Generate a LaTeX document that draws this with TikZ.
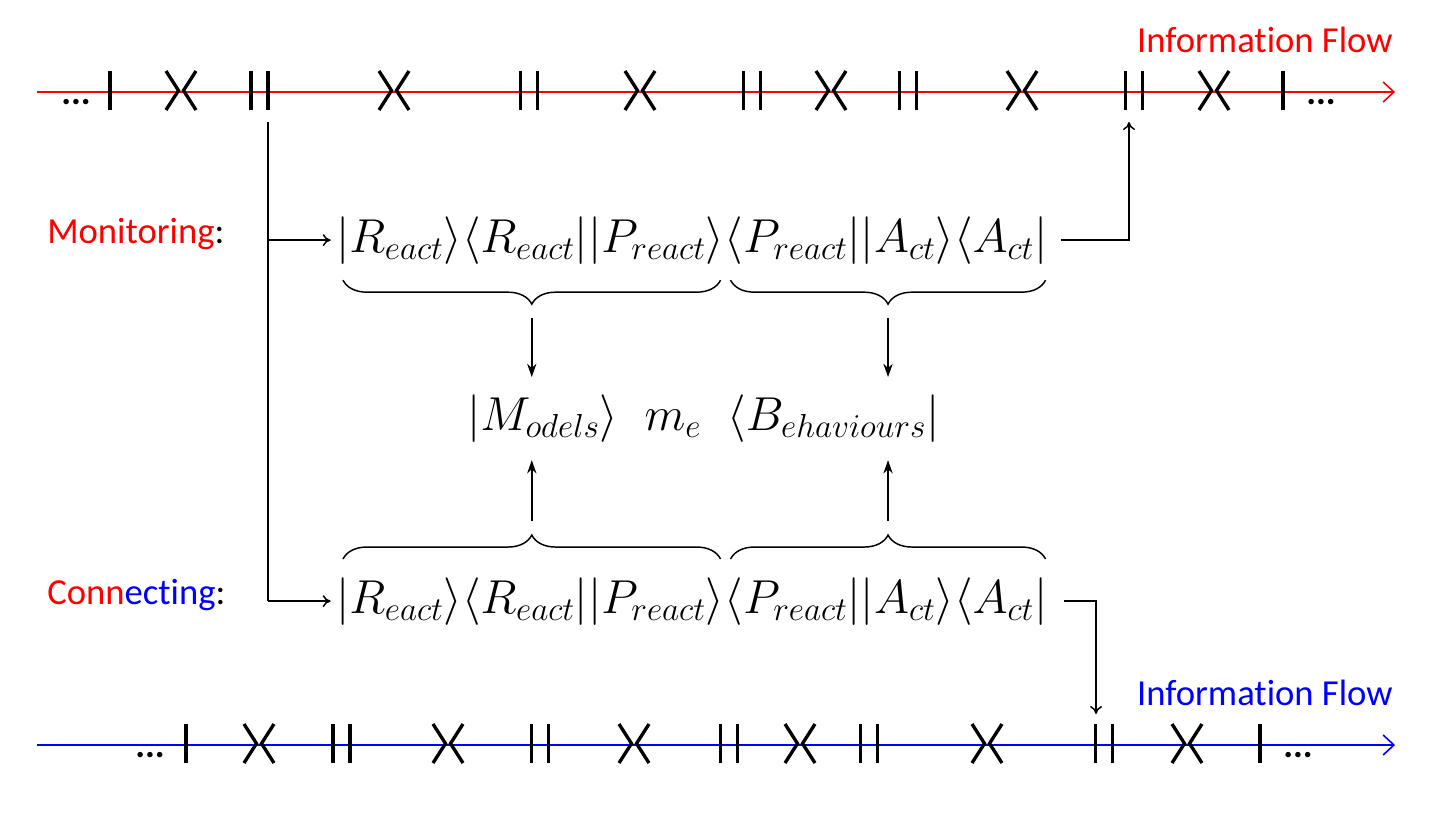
\RequirePackage{fix-cm}
\documentclass[tikz,border=0pt]{standalone}
\usepackage[no-math]{fontspec}
\setmainfont[Ligatures={NoCommon}]{Carlito}
\usetikzlibrary{arrows.meta,decorations.pathreplacing,calc}
\definecolor{flowred}{RGB}{255,0,0}
\definecolor{flowblue}{RGB}{0,0,255}
\newcommand\mkone[2]{\draw[mk] (#1,#2-21) -- (#1,#2+18);}
\newcommand\mktwo[2]{\draw[mk] (#1-8.5,#2-21) -- (#1-8.5,#2+18) (#1+8.5,#2-21) -- (#1+8.5,#2+18);}
\newcommand\mkang[2]{\draw[mk] (#1-15,#2-21) -- (#1-2.5,#2-1.5) -- (#1-15,#2+18) (#1+15,#2-21) -- (#1+2.5,#2-1.5) -- (#1+15,#2+18);}
\begin{document}
\begin{tikzpicture}[x=0.75pt,y=-0.75pt,
  mk/.style={line width=2.5pt,black},
  flowline/.style={line width=1.4pt,-{Straight Barb[length=8pt,width=15pt,line width=1.2pt]}},
  conn/.style={line width=1.1pt,black},
  openarrow/.style={conn,-{To[length=6pt,width=9pt]}},
  fillarrow/.style={conn,-{Stealth[length=10pt,width=7pt]}},
  fml/.style={inner sep=0pt,font=\fontsize{35.7}{42}\selectfont},
  lbl/.style={inner sep=0pt,font=\fontsize{27.5}{32}\selectfont},
  dotslbl/.style={inner sep=0pt,font=\fontsize{27.5}{32}\selectfont\bfseries},
  bracedown/.style={conn,decorate,decoration={brace,mirror,amplitude=18pt}},
  braceup/.style={conn,decorate,decoration={brace,amplitude=18pt}}]
\fill[white] (0,0) rectangle (1430,832);
\useasboundingbox (0,0) rectangle (1430,832);

% ---------- top information flow ----------
\coordinate (tl0) at (37,92);
\coordinate (tl1) at (1395,92);
\draw[flowline,flowred] (tl0) -- (tl1);
\node[lbl,text=flowred,anchor=base east] (ift) at (1393,52) {Information Flow};
\node[dotslbl,anchor=base west] (dt1) at (61,104) {...};
\node[dotslbl,anchor=base west] (dt2) at (1306,104) {...};
\mkone{110}{92}
\mkang{181}{92}
\mktwo{259.5}{92}
\mkang{394}{92}
\mktwo{529}{92}
\mkang{640}{92}
\mktwo{752}{92}
\mkang{831}{92}
\mktwo{908}{92}
\mkang{1022}{92}
\mktwo{1134}{92}
\mkang{1214}{92}
\mkone{1283}{92}

% ---------- bottom information flow ----------
\coordinate (bl0) at (37,745);
\coordinate (bl1) at (1395,745);
\draw[flowline,flowblue] (bl0) -- (bl1);
\node[lbl,text=flowblue,anchor=base east] (ifb) at (1393,705) {Information Flow};
\node[dotslbl,anchor=base west] (db1) at (135,757) {...};
\node[dotslbl,anchor=base west] (db2) at (1283,757) {...};
\mkone{186}{745}
\mkang{259}{745}
\mktwo{341.5}{745}
\mkang{448}{745}
\mktwo{540}{745}
\mkang{634}{745}
\mktwo{729}{745}
\mkang{800}{745}
\mktwo{869}{745}
\mkang{987}{745}
\mktwo{1104}{745}
\mkang{1187}{745}
\mkone{1260}{745}

% ---------- labels ----------
\node[lbl,anchor=base west] (mon) at (47,243) {\textcolor{flowred}{Monitoring}:};
\node[lbl,anchor=base west] (con) at (47,604) {\textcolor{flowred}{Conn}\textcolor{flowblue}{ecting}:};

% ---------- formulas ----------
\node[fml,anchor=base west] (L1) at (336,252) {$|R_{eact}\rangle\langle R_{eact}||P_{react}\rangle$};
\node[fml,anchor=base west] (R1) at (L1.base east) {$\langle P_{react}||A_{ct}\rangle\langle A_{ct}|$};
\node[fml,anchor=base west] (L2) at (336,613) {$|R_{eact}\rangle\langle R_{eact}||P_{react}\rangle$};
\node[fml,anchor=base west] (R2) at (L2.base east) {$\langle P_{react}||A_{ct}\rangle\langle A_{ct}|$};
\node[fml,anchor=base west] (M) at (467,430) {$|M_{odels}\rangle\hspace{0.55em}m_e\hspace{0.55em}\langle B_{ehaviours}|$};

% ---------- braces ----------
\coordinate (a1) at ($(L1.south west)+(7,16)$);
\coordinate (a2) at ($(L1.south east)+(-4,16)$);
\coordinate (a3) at ($(R1.south west)+(6,16)$);
\coordinate (a4) at ($(R1.south east)+(-2,16)$);
\draw[bracedown] (a1) -- (a2);
\draw[bracedown] (a3) -- (a4);
\coordinate (b1) at ($(L2.north west)+(7,-18)$);
\coordinate (b2) at ($(L2.north east)+(-4,-18)$);
\coordinate (b3) at ($(R2.north west)+(6,-18)$);
\coordinate (b4) at ($(R2.north east)+(-2,-18)$);
\draw[braceup] (b1) -- (b2);
\draw[braceup] (b3) -- (b4);

% brace tips
\coordinate (ta) at ($(a1)!0.5!(a2)+(0,38)$);
\coordinate (tb) at ($(a3)!0.5!(a4)+(0,38)$);
\coordinate (tc) at ($(b1)!0.5!(b2)+(0,-38)$);
\coordinate (td) at ($(b3)!0.5!(b4)+(0,-38)$);
\draw[fillarrow] (ta) -- ($(ta |- M.north)+(0,-17)$);
\draw[fillarrow] (tb) -- ($(tb |- M.north)+(0,-17)$);
\draw[fillarrow] (tc) -- ($(tc |- M.south)+(0,18)$);
\draw[fillarrow] (td) -- ($(td |- M.south)+(0,18)$);

% ---------- connectors ----------
\coordinate (s) at (268,122);
\draw[conn] (s) -- (s |- L2.west);
\draw[openarrow] (s |- L1.west) -- ([xshift=-4]L1.west);
\draw[openarrow] (s |- L2.west) -- ([xshift=-4]L2.west);
\coordinate (t) at (1129,122);
\draw[openarrow] ([xshift=10]R1.east) -| (t);
\coordinate (u) at (1096,714);
\draw[openarrow] ([xshift=12]R2.east) -| (u);
\end{tikzpicture}
\end{document}
